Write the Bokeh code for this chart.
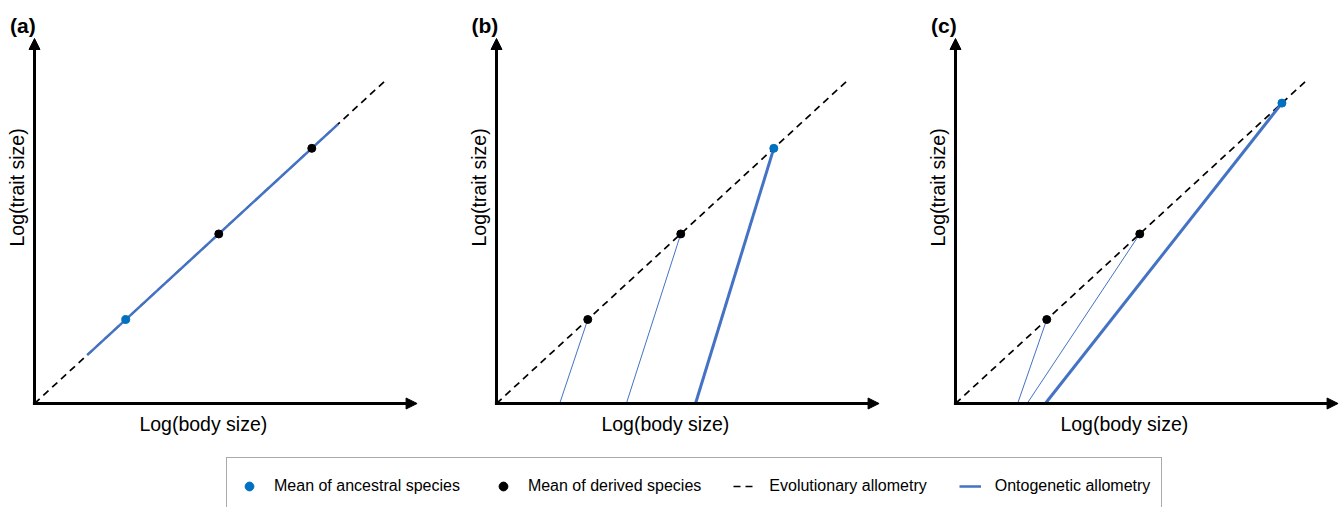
import math
from bokeh.plotting import figure
from bokeh.models import Range1d, Arrow, NormalHead, Legend, LegendItem
from bokeh.core.properties import value
from bokeh.embed import file_html
from bokeh.resources import INLINE

# ---------------- data (arbitrary log units; evolutionary line is y = x) ----------------
panels = ["a", "b", "c"]
panel_labels = ["(a)", "(b)", "(c)"]

evo_x = [0.0, 10.0]
evo_y = [0.0, 10.0]

# ancestral / derived species means per panel
anc_x = {"a": [2.6], "b": [7.9], "c": [9.3]}
anc_y = {"a": [2.6], "b": [7.9], "c": [9.3]}
der_x = {"a": [5.25, 7.9], "b": [2.6, 5.25], "c": [2.6, 5.25]}
der_y = {"a": [5.25, 7.9], "b": [2.6, 5.25], "c": [2.6, 5.25]}

# panel (a): ontogenetic allometry coincides with evolutionary allometry
onto_a_x = [1.5, 8.65]
onto_a_y = [1.5, 8.65]

# panels (b), (c): ontogenetic lines of derived species (thin) and ancestral (thick)
thin_x0 = {"b": [2.6, 5.25], "c": [2.6, 5.25]}
thin_y0 = {"b": [2.6, 5.25], "c": [2.6, 5.25]}
thin_x1 = {"b": [1.8, 3.7], "c": [1.77, 2.04]}
thin_y1 = {"b": [0.0, 0.0], "c": [0.0, 0.0]}
thick_x0 = {"b": [7.9], "c": [9.3]}
thick_y0 = {"b": [7.9], "c": [9.3]}
thick_x1 = {"b": [5.67], "c": [2.56]}
thick_y1 = {"b": [0.0], "c": [0.0]}

x_title = "Log(body size)"
y_title = "Log(trait size)"
legend_labels = ["Mean of ancestral species", "Mean of derived species",
                 "Evolutionary allometry", "Ontogenetic allometry"]

# axis extents (data units)
X_TIP = 10.9
Y_TIP = 11.3

# ---------------- layout ----------------
W, H = 1341, 507
PX_X = 35.1   # pixels per x unit
PX_Y = 32.3   # pixels per y unit
origin_px = {"a": 34, "b": 496, "c": 955}   # x pixel of each panel origin
origin_py = 403                              # y pixel (from top) of origin

BLUE_PT = "#0070C0"
BLUE_LN = "#4472C4"
FONT = "Liberation Sans"

def xr(name):
    o = origin_px[name]
    return Range1d(-o / PX_X, (W - o) / PX_X)

p = figure(width=W, height=H, output_backend="svg", toolbar_location=None,
           x_axis_location=None, y_axis_location=None, min_border=0,
           outline_line_color=None, x_range=xr("a"),
           y_range=Range1d(-(H - origin_py) / PX_Y, origin_py / PX_Y))
p.grid.visible = False
p.extra_x_ranges = {"b": xr("b"), "c": xr("c")}

def rn(name):
    return {} if name == "a" else {"x_range_name": name}

legend_refs = {}
for name, plab in zip(panels, panel_labels):
    kw = rn(name)
    # axes with arrowheads
    p.add_layout(Arrow(x_start=-0.045, y_start=0, x_end=X_TIP, y_end=0, line_width=3,
                       line_color="black",
                       end=NormalHead(size=11, fill_color="black", line_color="black"), **kw))
    p.add_layout(Arrow(x_start=0, y_start=-0.045, x_end=0, y_end=Y_TIP, line_width=3,
                       line_color="black",
                       end=NormalHead(size=11, fill_color="black", line_color="black"), **kw))
    # evolutionary allometry
    r_evo = p.line(evo_x, evo_y, line_color="black", line_width=1.7, line_dash="7 5", **kw)
    # ontogenetic allometry
    if name == "a":
        r_onto = p.line(onto_a_x, onto_a_y, line_color=BLUE_LN, line_width=2.5, **kw)
    else:
        p.segment(x0=thin_x0[name], y0=thin_y0[name], x1=thin_x1[name], y1=thin_y1[name],
                  line_color=BLUE_LN, line_width=1, **kw)
        p.segment(x0=thick_x0[name], y0=thick_y0[name], x1=thick_x1[name], y1=thick_y1[name],
                  line_color=BLUE_LN, line_width=3, **kw)
    # species means
    r_der = p.scatter(der_x[name], der_y[name], size=8, color="black", **kw)
    r_anc = p.scatter(anc_x[name], anc_y[name], size=8, color=BLUE_PT, **kw)
    if name == "a":
        legend_refs = {"anc": r_anc, "der": r_der, "evo": r_evo, "onto": r_onto}
    # titles
    p.text(x=[4.81], y=[-0.65], text=[x_title], text_font=value(FONT), text_font_size="19.5px",
           text_align="center", text_baseline="middle", text_color="black", **kw)
    p.text(x=[-0.49], y=[6.69], text=[y_title], text_font=value(FONT), text_font_size="19.5px",
           text_align="center", text_baseline="middle", text_color="black", angle=math.pi / 2, **kw)
    p.text(x=[-0.33], y=[11.7], text=[plab], text_font=value(FONT), text_font_size="21px",
           text_font_style="bold", text_align="center", text_baseline="middle",
           text_color="black", **kw)

legend = Legend(items=[LegendItem(label=legend_labels[0], renderers=[legend_refs["anc"]]),
                       LegendItem(label=legend_labels[1], renderers=[legend_refs["der"]]),
                       LegendItem(label=legend_labels[2], renderers=[legend_refs["evo"]]),
                       LegendItem(label=legend_labels[3], renderers=[legend_refs["onto"]])],
                orientation="horizontal", location=(226, -8), padding=11, spacing=32,
                label_standoff=14, glyph_width=22, glyph_height=34, label_height=34,
                border_line_color="#555555", border_line_width=1, background_fill_alpha=1,
                label_text_font=FONT, label_text_font_size="16px", label_text_color="black",
                margin=0)
p.add_layout(legend)

open("out.html", "w").write(file_html(p, INLINE))
